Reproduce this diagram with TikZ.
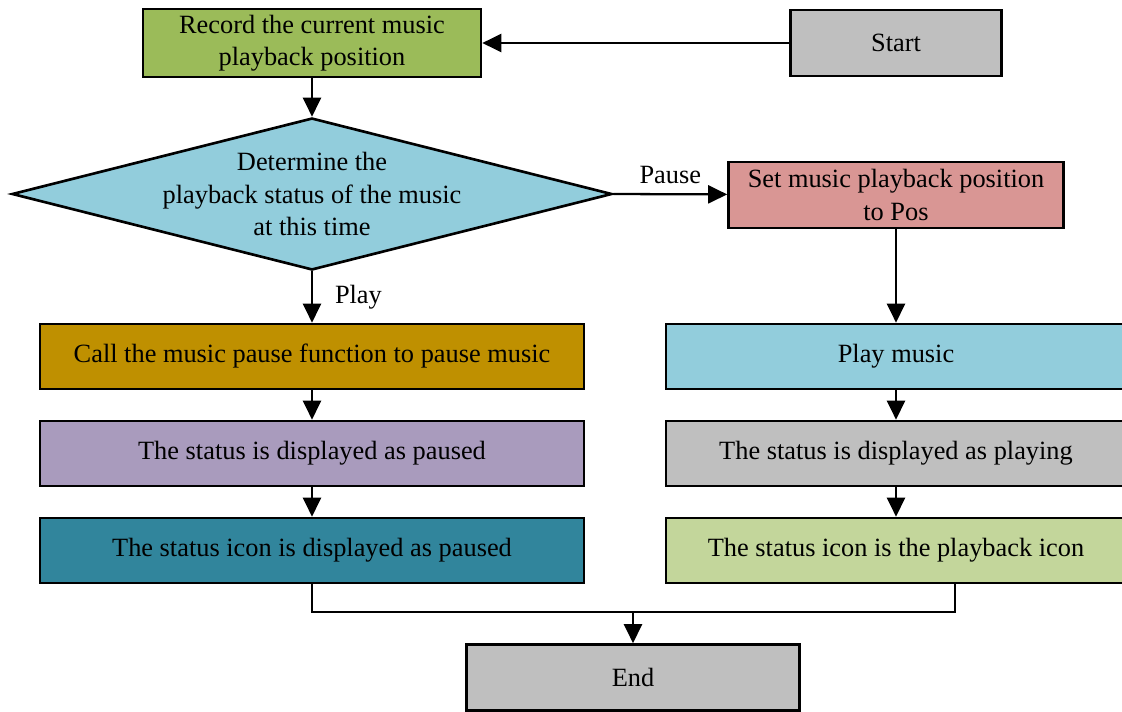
\documentclass[tikz,border=0pt]{standalone}
\usepackage{fontspec}
\setmainfont{Liberation Serif}
\usetikzlibrary{arrows.meta, shapes.geometric}
\definecolor{cGreen}{HTML}{9BBB59}
\definecolor{cGrey}{HTML}{BFBFBF}
\definecolor{cSky}{HTML}{92CDDC}
\definecolor{cRose}{HTML}{D99694}
\definecolor{cGold}{HTML}{BF9000}
\definecolor{cLilac}{HTML}{A99BBD}
\definecolor{cTeal}{HTML}{31859C}
\definecolor{cLime}{HTML}{C3D69B}
\tikzstyle{fStartStop} = [rectangle, minimum height=1.32cm, text centered, align=center, draw=black, line width=1.5pt, fill=cGrey]
\tikzstyle{fProcess} = [rectangle, minimum width=10.88cm, minimum height=1.3cm, text centered, align=center, draw=black, line width=1.5pt]
\tikzstyle{fDecision} = [diamond, minimum width=12cm, minimum height=3.04cm, inner sep=0pt, draw=black, line width=1.5pt, fill=cSky]
\tikzstyle{fArrow} = [line width=1.3pt,-{Triangle[length=0.38cm,width=0.36cm]}]
\tikzstyle{fLine} = [line width=1.3pt]

\begin{document}
\begin{tikzpicture}[node distance=1.94cm, font=\fontsize{15}{18.5}\selectfont]
    \path[use as bounding box, clip] (0,0) rectangle (22.44,-14.22);
    \node (record) [fProcess, fill=cGreen, minimum width=6.76cm, minimum height=1.32cm] at (6.24,-0.86) {Record the current music\\playback position};
    \node (start) [fStartStop, right of=record, xshift=9.74cm, minimum width=4.22cm] {Start};
    \node (decide) [fDecision, below of=record, yshift=-1.08cm, label={[align=center]center:Determine the\\playback status of the music\\at this time}] {};
    \node (setpos) [fProcess, fill=cRose, below of=start, yshift=-1.1cm, minimum width=6.7cm, minimum height=1.32cm] {Set music playback position\\to Pos};
    \node (callpause) [fProcess, fill=cGold, below of=decide, yshift=-1.31cm] {Call the music pause function to pause music};
    \node (shownpaused) [fProcess, fill=cLilac, below of=callpause] {The status is displayed as paused};
    \node (iconpaused) [fProcess, fill=cTeal, below of=shownpaused] {The status icon is displayed as paused};
    \node (playmusic) [fProcess, fill=cSky, below of=setpos, yshift=-1.29cm, minimum width=9.2cm] {Play music};
    \node (shownplaying) [fProcess, fill=cGrey, below of=playmusic, minimum width=9.2cm] {The status is displayed as playing};
    \node (iconplay) [fProcess, fill=cLime, below of=shownplaying, minimum width=9.2cm] {The status icon is the playback icon};
    \node (stop) [fStartStop, minimum width=6.66cm] at (12.66,-13.55) {End};
    \coordinate (join) at (12.66,-12.24);

    \draw [fArrow] (start) -- (record);
    \draw [fArrow] (record) -- (decide);
    \draw [fArrow] (decide.east) -- node[anchor=south, yshift=0.06cm] {Pause} (setpos);
    \draw [fArrow] (decide.south) -- node[anchor=west, xshift=0.32cm] {Play} (callpause);
    \draw [fArrow] (callpause) -- (shownpaused);
    \draw [fArrow] (shownpaused) -- (iconpaused);
    \draw [fArrow] (setpos) -- (playmusic);
    \draw [fArrow] (playmusic) -- (shownplaying);
    \draw [fArrow] (shownplaying) -- (iconplay);
    \draw [fLine] (iconpaused.south) |- (join) -| ([xshift=1.18cm]iconplay.south);
    \draw [fArrow] (join) -- (stop);
\end{tikzpicture}
\end{document}
